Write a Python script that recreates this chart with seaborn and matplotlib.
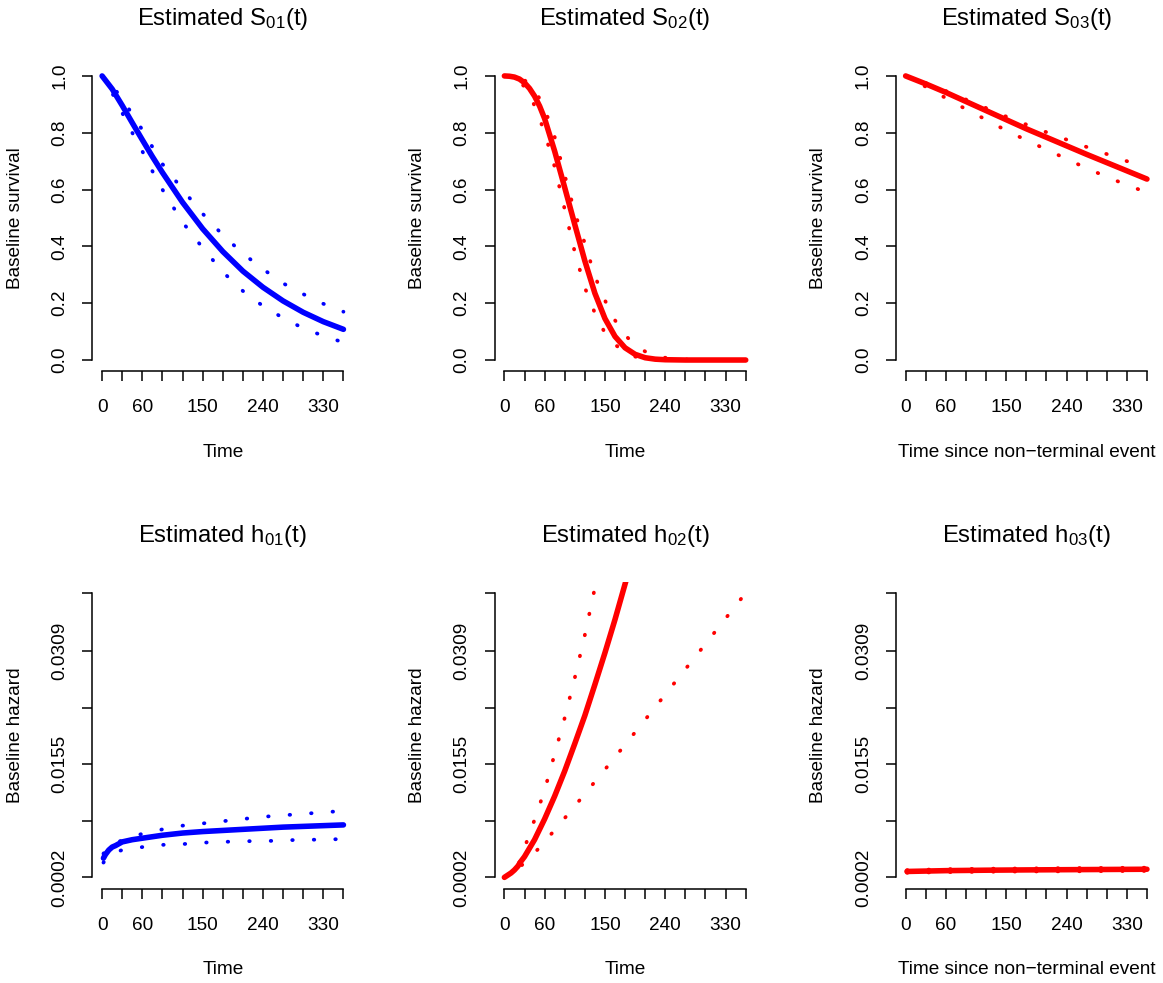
import matplotlib
matplotlib.use("Agg")
import matplotlib.pyplot as plt
import seaborn as sns

# ── Style ─────────────────────────────────────────────────────────────────────
sns.set_theme(style="ticks")
plt.rcParams["font.family"] = ["Liberation Sans", "DejaVu Sans"]
plt.rcParams["mathtext.fontset"] = "custom"
plt.rcParams["mathtext.rm"] = "Liberation Sans"
plt.rcParams["mathtext.it"] = "Liberation Sans:italic"
plt.rcParams["lines.scale_dashes"] = False

BLUE = "#0000FF"
RED = "#FF0000"

# =============================================================================
# DATA
# =============================================================================

# S01 : baseline survival, transition 1
t_s01 = [0, 15, 30, 45, 60, 75, 90, 120, 150, 180, 210, 240, 270, 300, 330, 360]
s01 = [1.0, 0.954, 0.896, 0.835, 0.775, 0.716, 0.660, 0.555, 0.462, 0.382, 0.313, 0.256,
       0.208, 0.168, 0.135, 0.108]
s01_upper = [1.0, 0.965, 0.92, 0.865, 0.81, 0.75, 0.69, 0.60, 0.515, 0.44, 0.375, 0.32,
             0.27, 0.232, 0.198, 0.17]
s01_lower = [1.0, 0.94, 0.87, 0.80, 0.735, 0.665, 0.60, 0.485, 0.395, 0.31, 0.243, 0.19,
             0.148, 0.112, 0.085, 0.062]

# S02 : baseline survival, transition 2
t_s02 = [0, 7.5, 15, 22.5, 30, 37.5, 45, 52.5, 60, 75, 90, 105, 120, 135, 150, 165, 180,
         195, 210, 225, 240, 270, 300, 330, 360]
s02 = [1.0, 0.999, 0.996, 0.989, 0.976, 0.956, 0.929, 0.894, 0.85, 0.735, 0.607, 0.477,
       0.349, 0.235, 0.146, 0.083, 0.043, 0.020, 0.008, 0.003, 0.001, 0.0, 0.0, 0.0, 0.0]
s02_upper = [1.0, 1.0, 0.998, 0.993, 0.985, 0.97, 0.95, 0.92, 0.885, 0.785, 0.65, 0.52,
             0.41, 0.295, 0.21, 0.14, 0.088, 0.052, 0.03, 0.016, 0.008, 0.002, 0.0, 0.0, 0.0]
s02_lower = [1.0, 0.998, 0.99, 0.98, 0.962, 0.935, 0.895, 0.85, 0.80, 0.68, 0.53, 0.38,
             0.255, 0.165, 0.095, 0.055, 0.025, 0.012, 0.005, 0.002, 0.0, 0.0, 0.0, 0.0, 0.0]

# S03 : baseline survival, transition 3
t_s03 = [0, 30, 60, 90, 120, 150, 180, 210, 240, 270, 300, 330, 360]
s03 = [1.0, 0.972, 0.942, 0.910, 0.878, 0.846, 0.814, 0.784, 0.754, 0.724, 0.695, 0.666, 0.637]
s03_upper = [1.0, 0.975, 0.947, 0.917, 0.887, 0.857, 0.829, 0.802, 0.776, 0.750, 0.725, 0.700, 0.677]
s03_lower = [1.0, 0.962, 0.922, 0.883, 0.846, 0.808, 0.774, 0.741, 0.708, 0.675, 0.645, 0.616, 0.590]

# h01 : baseline hazard, transition 1
t_h01 = [2, 5, 10, 15, 20, 30, 45, 60, 90, 120, 150, 180, 210, 240, 270, 300, 330, 360]
h01 = [0.0028, 0.0033, 0.0039, 0.0043, 0.0045, 0.0050, 0.0053, 0.0055, 0.0059, 0.0062,
       0.0064, 0.00655, 0.0067, 0.00685, 0.0070, 0.0071, 0.0072, 0.0073]
h01_upper = [0.0034, 0.0039, 0.0044, 0.0047, 0.0049, 0.0052, 0.0057, 0.0061, 0.0067, 0.0072,
             0.0075, 0.0078, 0.0081, 0.0084, 0.0086, 0.0088, 0.0090, 0.0092]
h01_lower = [0.0022, 0.0026, 0.0031, 0.0034, 0.0036, 0.0039, 0.0041, 0.0043, 0.0046, 0.0047,
             0.0049, 0.0050, 0.0051, 0.0051, 0.0052, 0.0053, 0.0053, 0.0054]

# h02 : baseline hazard, transition 2
t_h02 = [0, 5, 10, 15, 20, 25, 30, 45, 60, 75, 90, 105, 120, 135, 150, 165, 180, 190]
h02 = [0.0002, 0.0005, 0.0008, 0.0012, 0.0017, 0.0024, 0.0030, 0.0053, 0.0081, 0.0112,
       0.0146, 0.0183, 0.0221, 0.0263, 0.0306, 0.0351, 0.0399, 0.0431]
t_h02_upper = [0, 15, 25, 35, 45, 60, 75, 90, 105, 120, 135, 145]
h02_upper = [0.0002, 0.0011, 0.0027, 0.0055, 0.0080, 0.0120, 0.0169, 0.0218, 0.0272, 0.0330,
             0.0394, 0.0440]
t_h02_lower = [0, 15, 30, 50, 75, 100, 150, 200, 250, 300, 360]
h02_lower = [0.0002, 0.0009, 0.0022, 0.0040, 0.0066, 0.0093, 0.0148, 0.0204, 0.0261, 0.0318, 0.0387]

# h03 : baseline hazard, transition 3
t_h03 = [2, 60, 120, 180, 240, 300, 360]
h03 = [0.00100, 0.00111, 0.00117, 0.00121, 0.00124, 0.00127, 0.00130]
h03_upper = [0.00118, 0.00131, 0.00137, 0.00141, 0.00145, 0.00148, 0.00151]
h03_lower = [0.00082, 0.00091, 0.00096, 0.00100, 0.00102, 0.00105, 0.00107]

# axis ticks
x_ticks = [0, 30, 60, 90, 120, 150, 180, 210, 240, 270, 300, 330, 360]
x_tick_labels = ["0", "", "60", "", "", "150", "", "", "240", "", "", "330", ""]
surv_ticks = [0.0, 0.2, 0.4, 0.6, 0.8, 1.0]
surv_tick_labels = ["0.0", "0.2", "0.4", "0.6", "0.8", "1.0"]
haz_ticks = [0.0002, 0.00785, 0.0155, 0.02315, 0.0309, 0.03865]
haz_tick_labels = ["0.0002", "", "0.0155", "", "0.0309", ""]

# =============================================================================
# FIGURE
# =============================================================================

fig = plt.figure(figsize=(11.63, 9.83), dpi=100)

col_left = [0.0795, 0.4254, 0.7704]
row_bottom = [0.6222, 0.0959]
ax_w, ax_h = 0.2241, 0.3121

FS = 13.7


def draw_panel(ax, t, est, t_up, up, t_lo, lo, color, title, xlabel, ylabel,
               yticks, yticklabels):
    sns.lineplot(x=t, y=est, ax=ax, color=color, linewidth=4.0,
                 solid_capstyle="round", solid_joinstyle="round")
    for tb, band in [(t_up, up), (t_lo, lo)]:
        sns.lineplot(x=tb, y=band, ax=ax, color=color, linewidth=2.7,
                     linestyle=(0, (0.4, 15.1)), dash_capstyle="round")

    # R-style axis: 4% padding, axis lines only across the tick range
    x0, x1 = x_ticks[0], x_ticks[-1]
    y0, y1 = yticks[0], yticks[-1]
    ax.set_xlim(x0 - 0.04 * (x1 - x0), x1 + 0.04 * (x1 - x0))
    ax.set_ylim(y0 - 0.04 * (y1 - y0), y1 + 0.04 * (y1 - y0))
    for s in ["top", "right"]:
        ax.spines[s].set_visible(False)
    ax.spines["left"].set_bounds(y0, y1)
    ax.spines["bottom"].set_bounds(x0, x1)
    for s in ["left", "bottom"]:
        ax.spines[s].set_color("black")
        ax.spines[s].set_linewidth(1.1)

    ax.set_xticks(x_ticks)
    ax.set_xticklabels(x_tick_labels)
    ax.set_yticks(yticks)
    ax.set_yticklabels(yticklabels)
    ax.tick_params(axis="both", length=7.2, width=1.1, color="black",
                   labelsize=FS, labelcolor="black")
    ax.tick_params(axis="x", pad=13)
    ax.tick_params(axis="y", pad=10.2)
    plt.setp(ax.get_yticklabels(), rotation=90, va="center")

    ax.set_xlabel(xlabel, fontsize=FS, color="black", va="center")
    ax.xaxis.set_label_coords(0.5, -81 / 306.8)
    ax.set_ylabel(ylabel, fontsize=FS, color="black", va="center")
    ax.yaxis.set_label_coords(-77 / 260.6, 0.5)
    ax.text(0.5, 1 + 39.5 / 306.8, title, transform=ax.transAxes,
            ha="center", va="baseline", fontsize=17.2, color="black")
    ax.grid(False)


panels = [
    (t_s01, s01, t_s01, s01_upper, t_s01, s01_lower, BLUE,
     "Estimated S$_{01}$(t)", "Time", "Baseline survival", surv_ticks, surv_tick_labels),
    (t_s02, s02, t_s02, s02_upper, t_s02, s02_lower, RED,
     "Estimated S$_{02}$(t)", "Time", "Baseline survival", surv_ticks, surv_tick_labels),
    (t_s03, s03, t_s03, s03_upper, t_s03, s03_lower, RED,
     "Estimated S$_{03}$(t)", "Time since non\u2212terminal event", "Baseline survival",
     surv_ticks, surv_tick_labels),
    (t_h01, h01, t_h01, h01_upper, t_h01, h01_lower, BLUE,
     "Estimated h$_{01}$(t)", "Time", "Baseline hazard", haz_ticks, haz_tick_labels),
    (t_h02, h02, t_h02_upper, h02_upper, t_h02_lower, h02_lower, RED,
     "Estimated h$_{02}$(t)", "Time", "Baseline hazard", haz_ticks, haz_tick_labels),
    (t_h03, h03, t_h03, h03_upper, t_h03, h03_lower, RED,
     "Estimated h$_{03}$(t)", "Time since non\u2212terminal event", "Baseline hazard",
     haz_ticks, haz_tick_labels),
]

for i, p in enumerate(panels):
    r, c = divmod(i, 3)
    ax = fig.add_axes([col_left[c], row_bottom[r], ax_w, ax_h])
    ax.set_facecolor("white")
    draw_panel(ax, *p)

fig.patch.set_facecolor("white")
fig.savefig("out.png", dpi=100, facecolor="white")
